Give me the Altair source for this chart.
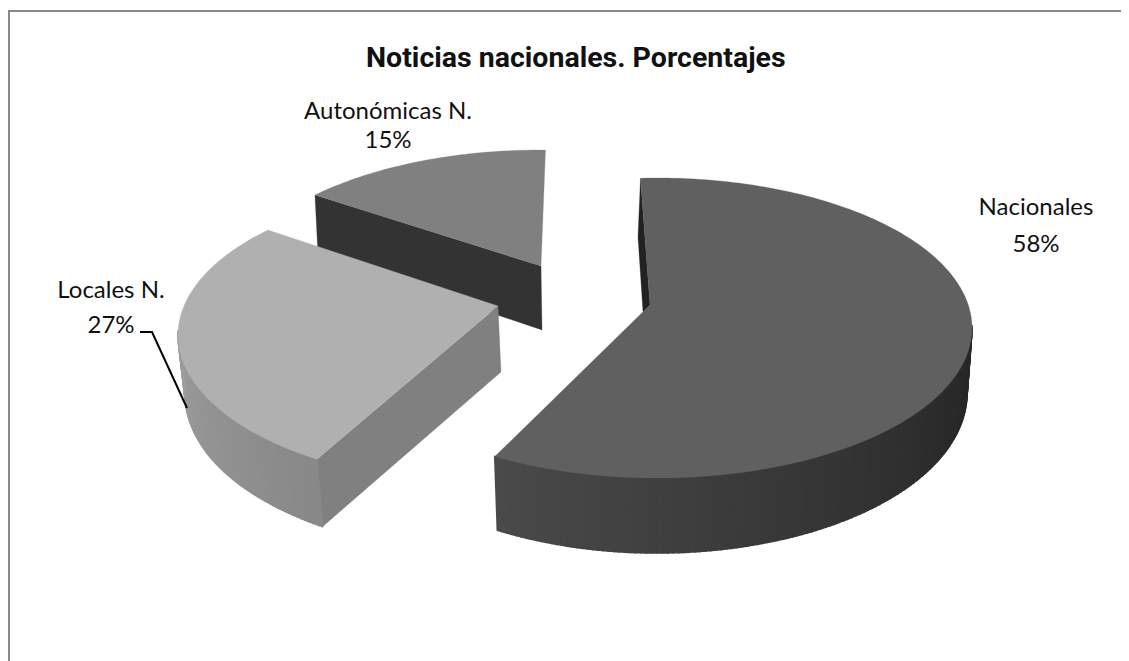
import math
import numpy as np
import altair as alt

# Chart values
categories = ["Nacionales", "Locales N.", "Autonómicas N."]
shares = [58, 27, 15]
title_text = "Noticias nacionales. Porcentajes"

# Drawing style of each slice of the 3-D pie (perspective tilt of the original)
style = {
    "Nacionales": dict(top=(657, 328, 315, 150), bottom=(657, 393, 310, 160), apex=(650, 305),
                       off=(-3, 2.2), face="#606060", wall_angles=[100, 150, 211], wall_shades=[0x27, 0x36, 0x4a]),
    "Locales N.": dict(top=(493, 335, 315, 150), bottom=(497, 394, 312, 160), apex=(498, 306),
                       off=(5.2, 8.4), face="#b0b0b0", wall_angles=[214, 270], wall_shades=[0x88, 0x9c]),
    "Autonómicas N.": dict(top=(540, 300, 315, 150), bottom=(540, 364, 315, 150), apex=(541, 266),
                           off=(8.4, 1), face="#808080", wall_angles=[0, 360], wall_shades=[0x33, 0x33]),
}
label_pos = {
    "Nacionales": (1036, 208, 245),
    "Locales N.": (111, 291, 326),
    "Autonómicas N.": (388, 112, 141),
}


def rim(ell, deg):
    cx, cy, rx, ry = ell
    a = math.radians(deg)
    return [cx + rx * math.sin(a), cy - ry * math.cos(a)]


def poly(points, fill, width=0.3):
    ring = [list(p) for p in points]
    ring.append(ring[0])
    return {"type": "Feature", "geometry": {"type": "Polygon", "coordinates": [ring]},
            "properties": {"fill": fill, "w": width}}


def grey(v):
    v = int(round(v))
    return f"#{v:02x}{v:02x}{v:02x}"


ends = np.cumsum(shares) * 3.6
starts = np.concatenate([[0], ends[:-1]])
slices = {c: (float(s), float(e)) for c, s, e in zip(categories, starts, ends)}

features = []
for name in ["Autonómicas N.", "Locales N.", "Nacionales"]:
    st = style[name]
    a0 = slices[name][0] + st["off"][0]
    a1 = slices[name][1] + st["off"][1]
    angles = np.arange(a0, a1 + 1.0, 1.0)
    angles[-1] = a1
    # radial walls
    if name == "Autonómicas N.":
        apex = st["apex"]
        features.append(poly([rim(st["top"], a0), apex, (542, 330), (318, 255)], "#333333"))
    if name == "Locales N.":
        features.append(poly([st["apex"], rim(st["top"], a0), rim(st["bottom"], a0), (501, 372)], "#808080"))
    # curved outer wall, in thin shaded strips (only the part facing the viewer)
    if name != "Autonómicas N.":
        for u, v in zip(angles[:-1], angles[1:]):
            if math.cos(math.radians(u)) < 0.02:
                shade = np.interp((u + v) / 2, st["wall_angles"], st["wall_shades"])
                features.append(poly([rim(st["top"], u), rim(st["top"], v),
                                      rim(st["bottom"], v), rim(st["bottom"], u)], grey(shade), 1.6))
    if name == "Nacionales":
        features.append(poly([rim(st["top"], a0), (638, 237), (643, 312), st["apex"]], "#222222"))
    # top face
    features.append(poly([st["apex"]] + [rim(st["top"], a) for a in angles], st["face"]))

proj = dict(type="identity", scale=1, translate=[-8, -8])

pie = alt.Chart(alt.Data(values=features)).mark_geoshape().encode(
    fill=alt.Fill("properties.fill:N", scale=None),
    stroke=alt.Stroke("properties.fill:N", scale=None),
    strokeWidth=alt.StrokeWidth("properties.w:Q", scale=None),
).project(**proj)


def path(points):
    return {"type": "Feature", "geometry": {"type": "LineString", "coordinates": points}, "properties": {}}


frame = alt.Chart(alt.Data(values=[path([[9, 661], [9, 11], [1129, 11]])])).mark_geoshape(
    filled=False, strokeWidth=2, stroke="#888888").project(**proj)
leader = alt.Chart(alt.Data(values=[path([[140, 332], [152, 332], [187, 408]])])).mark_geoshape(
    filled=False, strokeWidth=2, stroke="#000000").project(**proj)

label_rows = []
for c, s in zip(categories, shares):
    x, y1, y2 = label_pos[c]
    label_rows.append({"t": c, "x": x - 8, "y": y1 - 8})
    label_rows.append({"t": f"{s}%", "x": x - 8, "y": y2 - 8})

labels = alt.Chart(alt.Data(values=label_rows)).mark_text(
    font="Lato", fontSize=24, color="#111111", align="center", baseline="middle"
).encode(
    x=alt.X("x:Q", scale=None),
    y=alt.Y("y:Q", scale=None),
    text="t:N",
)

chart = alt.layer(frame, pie, leader, labels).properties(
    width=1113,
    height=653,
    padding=0,
    autosize=alt.AutoSizeParams(type="none"),
    title=alt.TitleParams(title_text, font="Roboto", fontWeight="bold", fontSize=28.5, color="#111111",
                          anchor="start", dx=358, dy=64, offset=0),
).configure_view(stroke=None)

chart.save("out.html", embed_options={"renderer": "svg", "actions": False})
